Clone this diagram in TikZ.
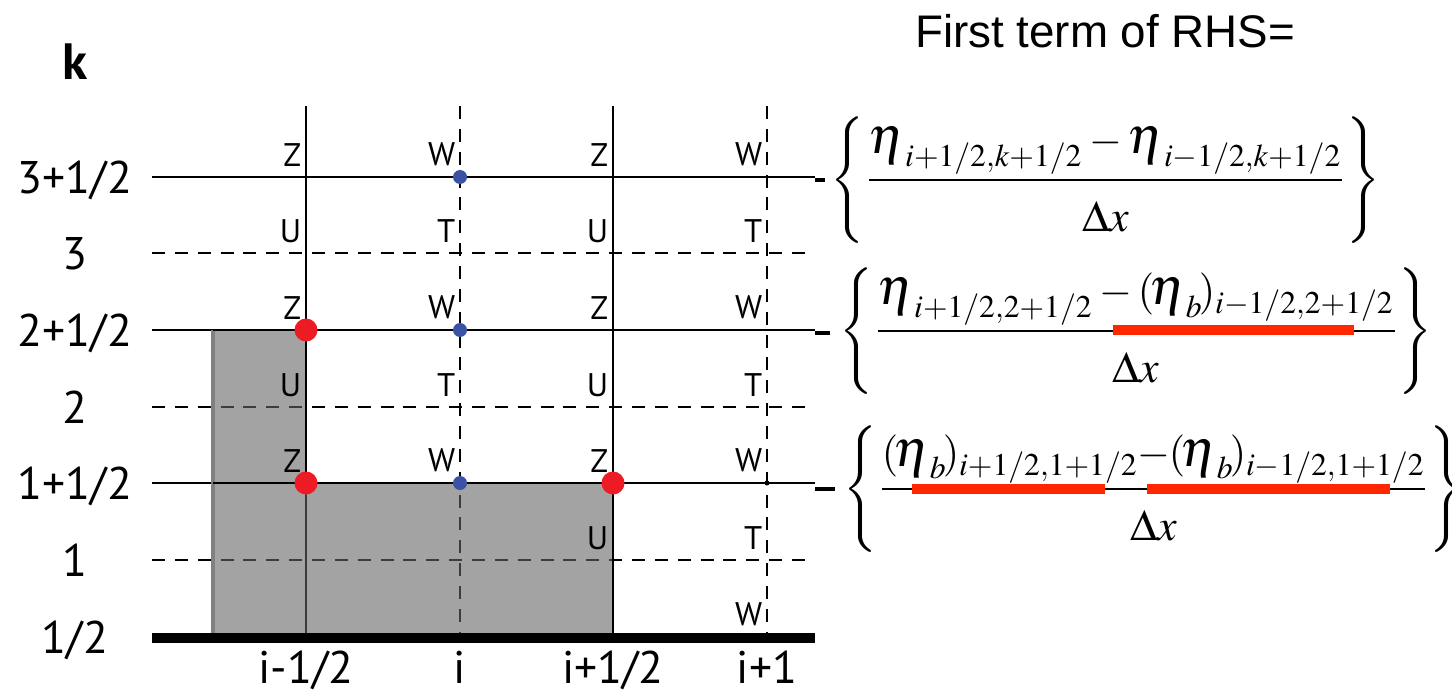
\documentclass[tikz,border=0pt]{standalone}
\usepackage{mathptmx}
\usepackage[no-math]{fontspec}
\newfontfamily\labfont{PT Sans}
\newfontfamily\headfont{Liberation Sans}
\usetikzlibrary{calc}
\definecolor{dotred}{RGB}{237,28,36}
\definecolor{dotblue}{RGB}{58,83,164}
\definecolor{markred}{RGB}{255,38,0}
\definecolor{blockgray}{RGB}{102,101,101}
\newcommand{\etaL}{\mbox{\fontsize{15}{17}\selectfont$\eta$}}
\newcommand{\dX}{\vrule height 13pt width 0pt\mbox{\fontsize{12.5}{14}\selectfont$\Delta x$}}
\newcommand{\bracestrut}{\vcenter{\hrule height 39pt width 0pt}}

\begin{document}
\begin{tikzpicture}[x=0.01cm,y=-0.01cm,
    grid/.style={line width=0.45pt},
    gridd/.style={line width=0.45pt,dash pattern=on 3.7pt off 2.8pt},
    lab/.style={font=\labfont\fontsize{9.3}{10}\selectfont,inner sep=0pt,anchor=south east},
    axlab/.style={font=\labfont\fontsize{13}{14}\selectfont,inner sep=0pt,anchor=base},
    eqn/.style={font=\fontsize{12}{14}\selectfont,inner sep=0pt,anchor=west},
    redmark/.style={draw,markred,line width=3.1pt}]
    \useasboundingbox (0,0) rectangle (1452,691);
        \coordinate(G1)at(152,638);
        \coordinate(G2)at(815,638);
        % grid
        \foreach \y in {177,330,483} \path[draw,grid](152,\y)to(815,\y);
        \foreach \y in {253,407,560} \path[draw,gridd](152,\y)to(805,\y);
        \foreach \x in {306,613} \path[draw,grid](\x,106)to(\x,637);
        \foreach \x in {460,767} \path[draw,gridd](\x,106)to(\x,637);
        % topography
        \fill[blockgray,opacity=0.6](213,330)--(306,330)--(306,483)--(613,483)--(613,637)--(213,637)--cycle;
        \path[draw,line width=1.1pt,black!50](213,330)to(213,637);
        \path[draw,line width=0.8pt](213,330)to(306,330)to(306,483);
        \path[draw,line width=0.8pt](213,483)to(613,483)to(613,637);
        \path[draw,line width=2.8pt](G1)to(G2);
        % variables
        \foreach \x/\y/\t in {302/167/Z,302/320/Z,302/473/Z,609/167/Z,609/320/Z,609/473/Z,
            302/243/U,302/397/U,609/243/U,609/397/U,609/550/U,
            456/167/W,456/320/W,456/473/W,763/167/W,763/320/W,763/473/W,763/627/W,
            456/243/T,456/397/T,763/243/T,763/397/T,763/550/T}
            \node[lab](v\x-\y)at(\x,\y){\t};
        \foreach \p in {(460,177),(460,330),(460,483)} \fill[dotblue]\p circle(7);
        \foreach \p in {(306,330),(306,483),(613,483)} \fill[dotred]\p circle(11.5);
        \fill(767,483)circle(2.5);
        % axes
        \node[axlab,font=\labfont\bfseries\fontsize{14.5}{16}\selectfont](kax)at(75,80){k};
        \foreach \y/\t in {177/3+1\slash 2,253/3,330/2+1\slash 2,407/2,483/1+1\slash 2,560/1,637/1\slash 2}
            \node[axlab](k\y)at(75,\y+16){\t};
        \foreach \x/\t in {306/i-1\slash 2,460/i,613/i+1\slash 2,767/i+1}
            \node[axlab](i\x)at(\x,683){\t};
        % right hand side
        \node[font=\headfont\fontsize{13}{15}\selectfont,anchor=base](rhs)at(1105,48){First term of RHS=};
        \path[draw,line width=1pt](815,180)to(825,180);
        \path[draw,line width=1pt](815,333)to(830,333);
        \path[draw,line width=1pt](815,489)to(835,489);
        \node[eqn](eq1)at(830,180){$\displaystyle\left\{\bracestrut
            \frac{\etaL_{i+1/2,k+1/2}-\etaL_{i-1/2,k+1/2}}{\dX}\right\}$};
        \node[eqn](eq2)at(839,331){$\displaystyle\left\{\bracestrut
            \frac{\etaL_{i+1/2,2+1/2}-(\!\etaL_b\!)_{i-1/2,2+1/2}}{\dX}\right\}$};
        \node[eqn](eq3)at(843,489){$\displaystyle\left\{\bracestrut
            \frac{(\!\etaL_b\!)_{i+1/2,1+1/2}\mkern-3mu-\mkern-3mu(\!\etaL_b\!)_{i-1/2,1+1/2}}{\dX}\right\}$};
        \path[redmark](1113,330)to(1354,330);
        \path[redmark](912,489)to(1105,489);
        \path[redmark](1147,489)to(1390,489);
\end{tikzpicture}
\end{document}
